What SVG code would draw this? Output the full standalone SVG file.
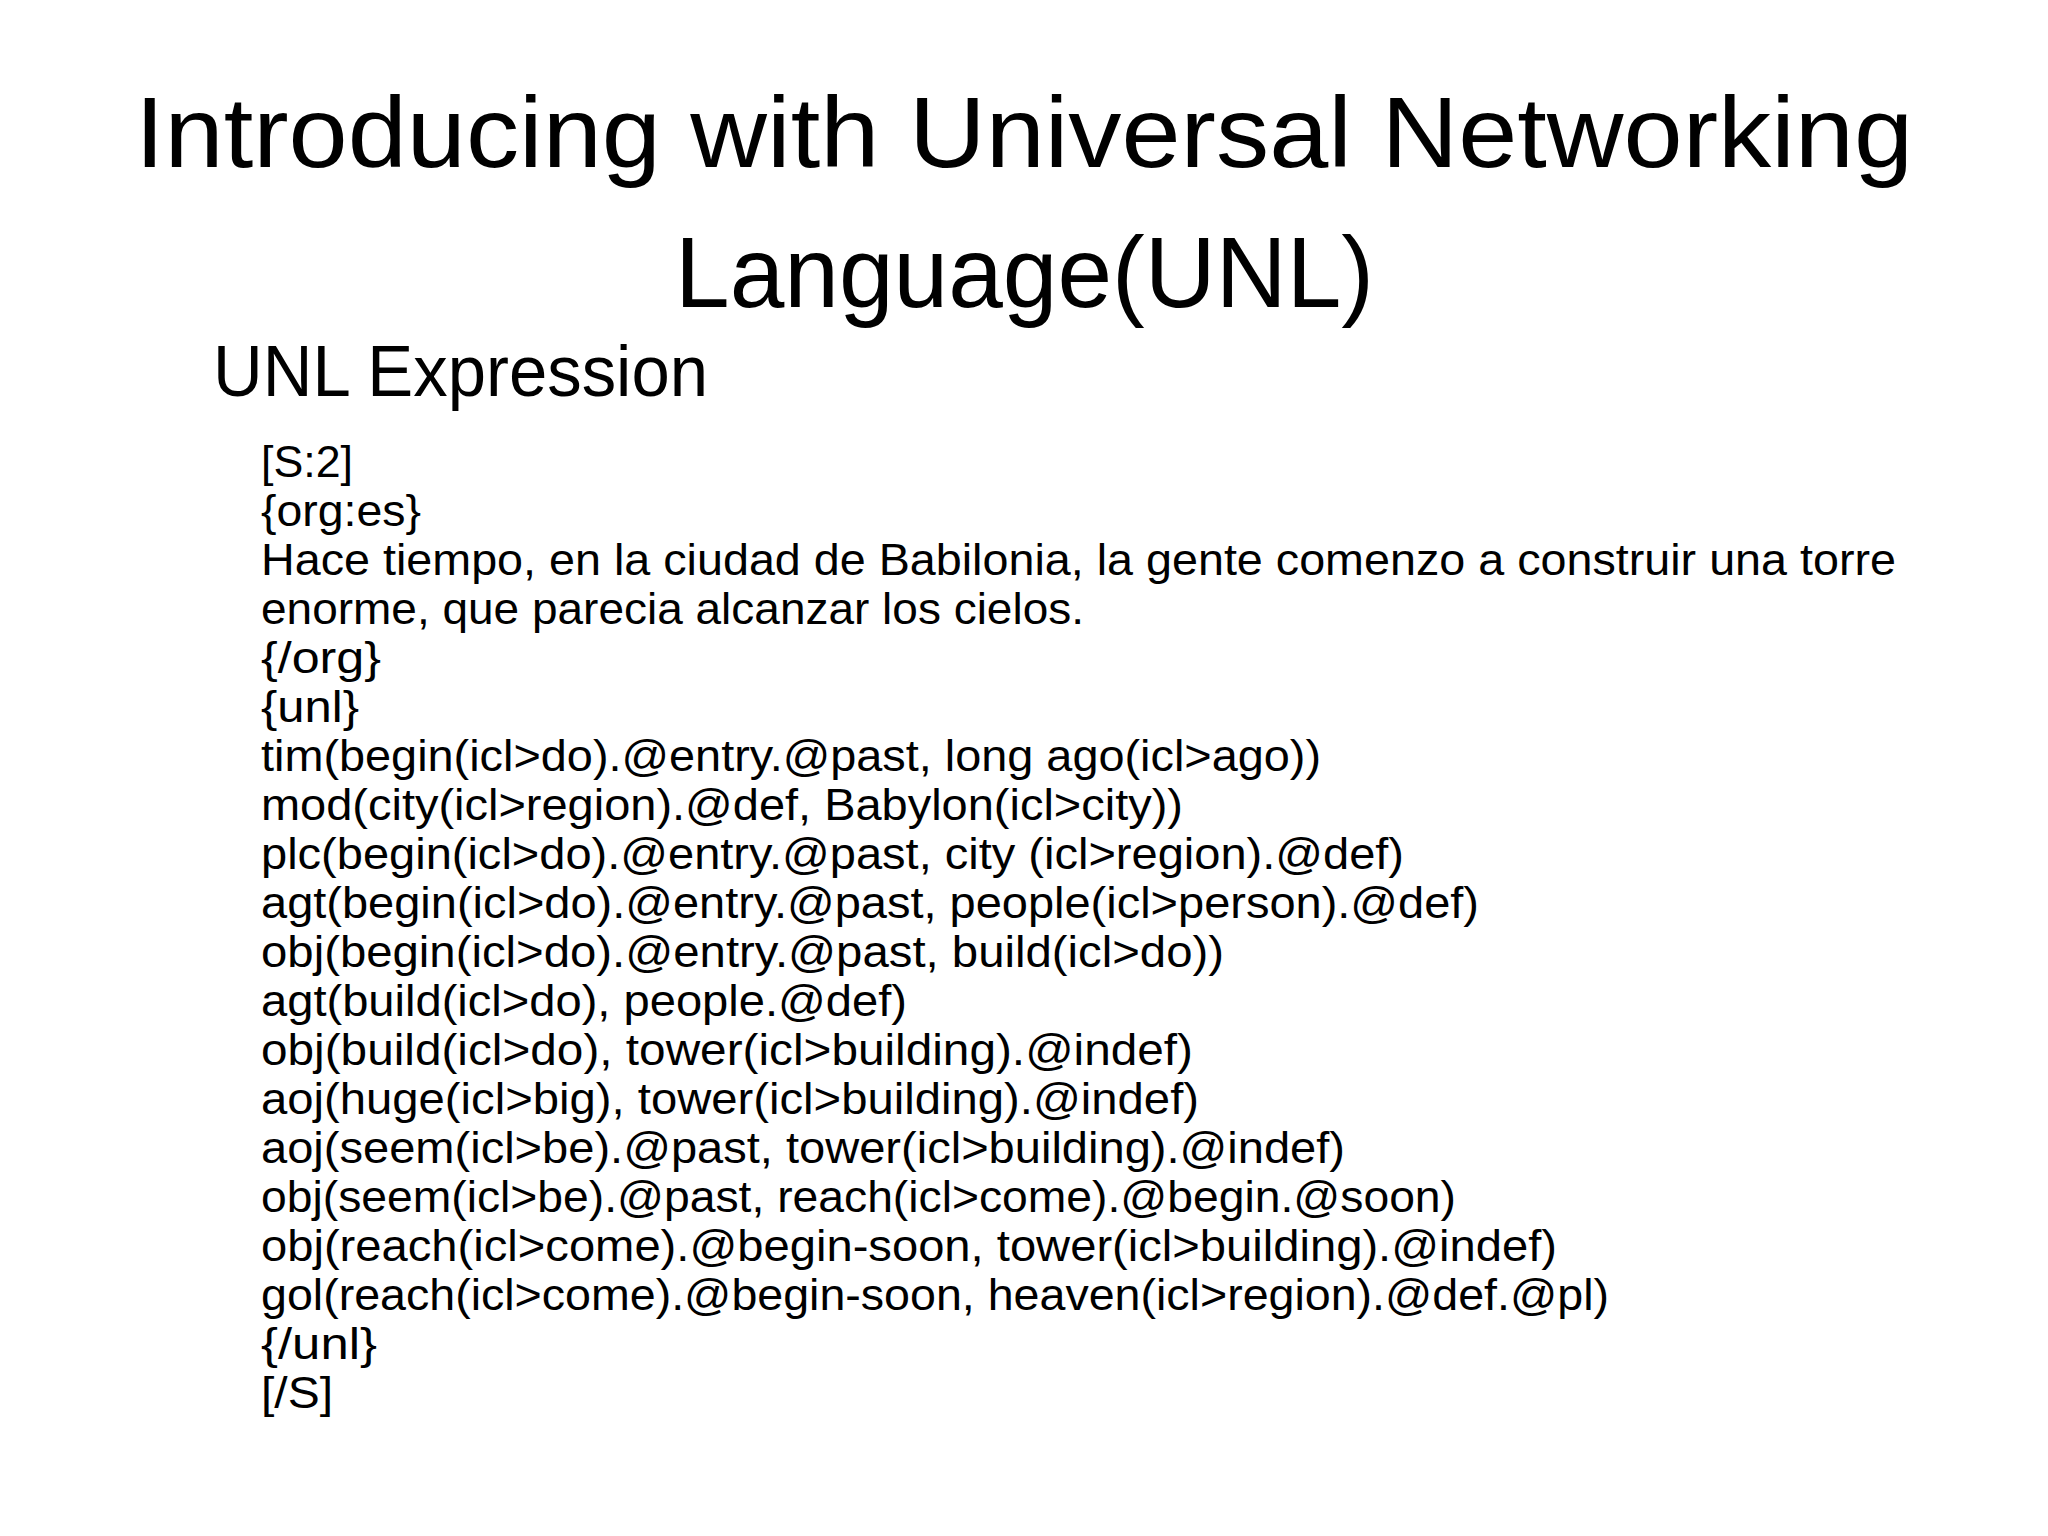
<svg xmlns="http://www.w3.org/2000/svg" width="2048" height="1536" viewBox="0 0 2048 1536">
<style>
text{font-family:"Liberation Sans","Noto Sans",sans-serif;fill:#000}
.t{font-size:100px}
.h{font-size:72px}
.b{font-size:45px}
</style>
<rect width="2048" height="1536" fill="#fff"/>
<g id="title">
<text class="t" x="135" y="167" textLength="1778" lengthAdjust="spacingAndGlyphs">Introducing with Universal Networking</text>
<text class="t" x="675" y="307" textLength="699" lengthAdjust="spacingAndGlyphs">Language(UNL)</text>
</g>
<g id="heading"><text class="h" x="213" y="396" textLength="495" lengthAdjust="spacingAndGlyphs">UNL Expression</text></g>
<g id="body">
<text class="b" x="261" y="477" textLength="92" lengthAdjust="spacingAndGlyphs">[S:2]</text>
<text class="b" x="261" y="526" textLength="160" lengthAdjust="spacingAndGlyphs">{org:es}</text>
<text class="b" x="261" y="575" textLength="1635" lengthAdjust="spacingAndGlyphs">Hace tiempo, en la ciudad de Babilonia, la gente comenzo a construir una torre</text>
<text class="b" x="261" y="624" textLength="823" lengthAdjust="spacingAndGlyphs">enorme, que parecia alcanzar los cielos.</text>
<text class="b" x="261" y="673" textLength="120" lengthAdjust="spacingAndGlyphs">{/org}</text>
<text class="b" x="261" y="722" textLength="98" lengthAdjust="spacingAndGlyphs">{unl}</text>
<text class="b" x="261" y="771" textLength="1060" lengthAdjust="spacingAndGlyphs">tim(begin(icl&gt;do).@entry.@past, long ago(icl&gt;ago))</text>
<text class="b" x="261" y="820" textLength="922" lengthAdjust="spacingAndGlyphs">mod(city(icl&gt;region).@def, Babylon(icl&gt;city))</text>
<text class="b" x="261" y="869" textLength="1143" lengthAdjust="spacingAndGlyphs">plc(begin(icl&gt;do).@entry.@past, city (icl&gt;region).@def)</text>
<text class="b" x="261" y="918" textLength="1218" lengthAdjust="spacingAndGlyphs">agt(begin(icl&gt;do).@entry.@past, people(icl&gt;person).@def)</text>
<text class="b" x="261" y="967" textLength="963" lengthAdjust="spacingAndGlyphs">obj(begin(icl&gt;do).@entry.@past, build(icl&gt;do))</text>
<text class="b" x="261" y="1016" textLength="646" lengthAdjust="spacingAndGlyphs">agt(build(icl&gt;do), people.@def)</text>
<text class="b" x="261" y="1065" textLength="932" lengthAdjust="spacingAndGlyphs">obj(build(icl&gt;do), tower(icl&gt;building).@indef)</text>
<text class="b" x="261" y="1114" textLength="938" lengthAdjust="spacingAndGlyphs">aoj(huge(icl&gt;big), tower(icl&gt;building).@indef)</text>
<text class="b" x="261" y="1163" textLength="1084" lengthAdjust="spacingAndGlyphs">aoj(seem(icl&gt;be).@past, tower(icl&gt;building).@indef)</text>
<text class="b" x="261" y="1212" textLength="1195" lengthAdjust="spacingAndGlyphs">obj(seem(icl&gt;be).@past, reach(icl&gt;come).@begin.@soon)</text>
<text class="b" x="261" y="1261" textLength="1296" lengthAdjust="spacingAndGlyphs">obj(reach(icl&gt;come).@begin-soon, tower(icl&gt;building).@indef)</text>
<text class="b" x="261" y="1310" textLength="1348" lengthAdjust="spacingAndGlyphs">gol(reach(icl&gt;come).@begin-soon, heaven(icl&gt;region).@def.@pl)</text>
<text class="b" x="261" y="1359" textLength="116" lengthAdjust="spacingAndGlyphs">{/unl}</text>
<text class="b" x="261" y="1408" textLength="72" lengthAdjust="spacingAndGlyphs">[/S]</text>
</g>
</svg>
